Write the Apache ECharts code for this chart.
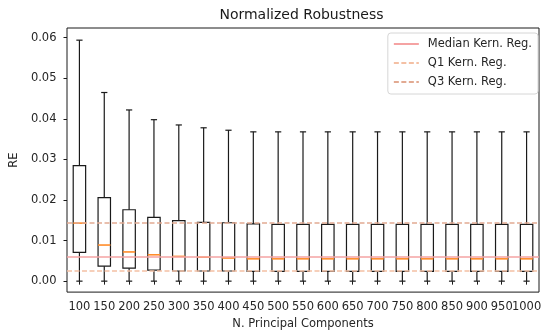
<!DOCTYPE html>
<html>
<head>
<meta charset="utf-8">
<script src="https://cdn.jsdelivr.net/npm/echarts@6/dist/echarts.min.js"></script>
<style>
  html, body { margin: 0; padding: 0; background: #fff; }
  #chart { width: 549px; height: 335px; }
</style>
</head>
<body>
<div id="chart"></div>
<script>
// Number of principal components (x categories)
const categories = ['100', '150', '200', '250', '300', '350', '400', '450', '500', '550',
                    '600', '650', '700', '750', '800', '850', '900', '950', '1000'];

// Box statistics of the robustness error for each setting
const whiskerLow  = [0, 0, 0, 0, 0, 0, 0, 0, 0, 0, 0, 0, 0, 0, 0, 0, 0, 0, 0];
const q1Values    = [0.0071, 0.0037, 0.0032, 0.0027, 0.0025, 0.0025, 0.0025, 0.0024, 0.0024, 0.0024,
                     0.0024, 0.0024, 0.0024, 0.0024, 0.0024, 0.0024, 0.0024, 0.0024, 0.0024];
const medianValues= [0.0143, 0.0089, 0.0072, 0.0065, 0.0061, 0.0059, 0.0057, 0.0055, 0.0055, 0.0055,
                     0.0055, 0.0055, 0.0055, 0.0055, 0.0055, 0.0055, 0.0055, 0.0055, 0.0055];
const q3Values    = [0.0285, 0.0206, 0.0176, 0.0157, 0.0149, 0.0145, 0.0144, 0.0141, 0.0140, 0.0140,
                     0.0140, 0.0140, 0.0140, 0.0140, 0.0140, 0.0140, 0.0140, 0.0140, 0.0140];
const whiskerHigh = [0.0594, 0.0465, 0.0422, 0.0398, 0.0385, 0.0378, 0.0372, 0.0368, 0.0368, 0.0368,
                     0.0368, 0.0368, 0.0368, 0.0368, 0.0368, 0.0368, 0.0368, 0.0368, 0.0368];

// Kernel regression reference levels
const medianKernReg = 0.0061;
const q1KernReg = 0.0026;
const q3KernReg = 0.0143;

// Y tick labels
const yTicks = [0, 0.01, 0.02, 0.03, 0.04, 0.05, 0.06];
const yTickLabels = ['0.00', '0.01', '0.02', '0.03', '0.04', '0.05', '0.06'];

const FONT = 'DejaVu Sans';
const TEXT = '#262626';
const FS = 11.5;

const boxData = categories.map((c, i) =>
  [i, whiskerLow[i], q1Values[i], medianValues[i], q3Values[i], whiskerHigh[i]]);

function renderBox(params, api) {
  const i = api.value(0);
  const lo = api.coord([i, api.value(1)]);
  const q1 = api.coord([i, api.value(2)]);
  const md = api.coord([i, api.value(3)]);
  const q3 = api.coord([i, api.value(4)]);
  const hi = api.coord([i, api.value(5)]);
  const band = api.size([1, 0])[0];
  const bw = band * 0.5;
  const cw = band * 0.25;
  const x = lo[0];
  const stroke = { stroke: '#1a1a1a', lineWidth: 1.2, fill: null };
  return {
    type: 'group',
    children: [
      { type: 'line', shape: { x1: x, y1: q1[1], x2: x, y2: lo[1] }, style: stroke },
      { type: 'line', shape: { x1: x, y1: q3[1], x2: x, y2: hi[1] }, style: stroke },
      { type: 'line', shape: { x1: x - cw / 2, y1: lo[1], x2: x + cw / 2, y2: lo[1] }, style: stroke },
      { type: 'line', shape: { x1: x - cw / 2, y1: hi[1], x2: x + cw / 2, y2: hi[1] }, style: stroke },
      { type: 'rect', shape: { x: x - bw / 2, y: q3[1], width: bw, height: q1[1] - q3[1] },
        style: { stroke: '#1a1a1a', lineWidth: 1.2, fill: 'rgba(0,0,0,0)' } },
      { type: 'line', z2: 5, shape: { x1: x - bw / 2, y1: md[1], x2: x + bw / 2, y2: md[1] },
        style: { stroke: '#ff8c2a', lineWidth: 1.6 } }
    ]
  };
}

function refLine(name, value, color, dash) {
  const ls = { color: color, width: 1.5, type: dash };
  return {
    name: name,
    type: 'line',
    data: [],
    symbol: 'none',
    color: color,
    lineStyle: ls,
    z: 3,
    markLine: {
      silent: true,
      symbol: 'none',
      precision: 6,
      label: { show: false },
      lineStyle: ls,
      data: [{ yAxis: value }]
    }
  };
}

const chart = echarts.init(document.getElementById('chart'), null, { renderer: 'canvas' });
chart.setOption({
  animation: false,
  backgroundColor: '#fff',
  textStyle: { fontFamily: FONT },
  graphic: [{
    type: 'text',
    x: 301.5, y: 15.5,
    style: { text: 'Normalized Robustness', font: '14px "DejaVu Sans"', fill: '#1a1a1a',
             textAlign: 'center', textVerticalAlign: 'middle' }
  }],
  grid: {
    left: 64, right: 10, top: 28, bottom: 39,
    show: true, borderColor: '#1a1a1a', borderWidth: 1, backgroundColor: 'transparent',
    containLabel: false
  },
  legend: {
    orient: 'vertical',
    right: 11, top: 33,
    padding: [5, 6, 6, 5],
    itemWidth: 25, itemHeight: 12, itemGap: 7,
    backgroundColor: 'rgba(255,255,255,0.8)',
    borderColor: '#d6d6d6', borderWidth: 1, borderRadius: 3,
    itemStyle: { opacity: 0 },
    textStyle: { fontFamily: FONT, fontSize: FS, color: TEXT, padding: [0, 0, 0, 4] },
    data: ['Median Kern. Reg.', 'Q1 Kern. Reg.', 'Q3 Kern. Reg.']
  },
  xAxis: {
    type: 'category',
    data: categories,
    boundaryGap: true,
    name: 'N. Principal Components',
    nameLocation: 'middle',
    nameGap: 24,
    nameTextStyle: { fontFamily: FONT, fontSize: FS, color: TEXT },
    axisLine: { show: false },
    axisTick: { show: true, alignWithLabel: true, length: 3.5, lineStyle: { color: '#1a1a1a' } },
    axisLabel: { interval: 0, margin: 9, fontFamily: FONT, fontSize: FS, color: TEXT },
    splitLine: { show: false }
  },
  yAxis: {
    type: 'value',
    min: -0.0027,
    max: 0.0624,
    name: 'RE',
    nameLocation: 'middle',
    nameRotate: 90,
    nameGap: 38,
    nameTextStyle: { fontFamily: FONT, fontSize: FS, color: TEXT },
    axisLine: { show: false },
    axisTick: { show: true, length: 3.5, customValues: yTicks, lineStyle: { color: '#1a1a1a' } },
    axisLabel: {
      customValues: yTicks,
      margin: 10.5,
      fontFamily: FONT, fontSize: FS, color: TEXT,
      formatter: v => {
        const k = yTicks.findIndex(t => Math.abs(t - v) < 1e-9);
        return k >= 0 ? yTickLabels[k] : '';
      }
    },
    splitLine: { show: false }
  },
  series: [
    {
      name: 'boxes',
      type: 'custom',
      renderItem: renderBox,
      data: boxData,
      encode: { x: 0, y: [1, 2, 3, 4, 5] },
      z: 4
    },
    refLine('Median Kern. Reg.', medianKernReg, '#f5a3a3', 'solid'),
    refLine('Q1 Kern. Reg.', q1KernReg, '#f4c0a4', [5, 2.5]),
    refLine('Q3 Kern. Reg.', q3KernReg, '#e2aa92', [5, 2.5])
  ]
});
</script>
</body>
</html>
